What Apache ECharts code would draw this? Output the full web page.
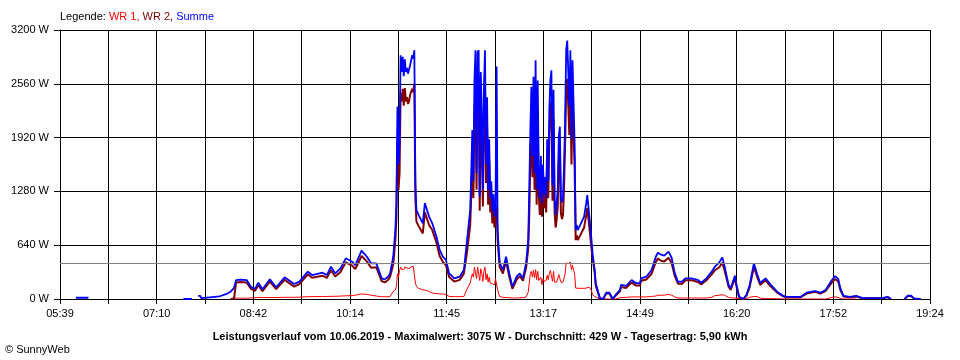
<!DOCTYPE html>
<html><head><meta charset="utf-8">
<script src="https://cdn.jsdelivr.net/npm/echarts@6/dist/echarts.min.js"></script>
<style>html,body{margin:0;padding:0;background:#fff}#c{width:960px;height:360px}</style>
</head><body><div id="c"></div>
<script>
const times = [
 '05:54','06:06','06:07','07:36','07:44','07:45','07:50','07:52','07:53','08:01',
 '08:10','08:17','08:21','08:24','08:26','08:30','08:36','08:40','08:44','08:47',
 '08:51','08:58','09:04','09:12','09:21','09:26','09:34','09:38','09:48','09:52',
 '09:56','10:00','10:05','10:10','10:16','10:19','10:25','10:30','10:34','10:39',
 '10:44','10:47','10:50','10:52','10:55','10:57','10:58','10:59','11:00','11:01',
 '11:02','11:03','11:04','11:05','11:06','11:07','11:08','11:09','11:10','11:11',
 '11:12','11:13','11:14','11:15','11:16','11:17','11:19','11:20','11:23','11:25',
 '11:29','11:32','11:36','11:39','11:42','11:45','11:48','11:53','11:58','12:02',
 '12:05','12:08','12:09','12:10','12:11','12:12','12:13','12:14','12:15','12:16',
 '12:17','12:18','12:19','12:20','12:21','12:22','12:23','12:24','12:25','12:26',
 '12:27','12:28','12:29','12:30','12:31','12:32','12:33','12:34','12:35','12:36',
 '12:39','12:42','12:45','12:48','12:52','12:55','12:58','13:01','13:03','13:04',
 '13:05','13:06','13:07','13:08','13:09','13:10','13:11','13:12','13:13','13:14',
 '13:15','13:16','13:17','13:18','13:19','13:20','13:21','13:22','13:23','13:24',
 '13:25','13:26','13:27','13:28','13:29','13:30','13:31','13:32','13:33','13:34',
 '13:35','13:36','13:37','13:38','13:39','13:40','13:41','13:42','13:43','13:44',
 '13:45','13:46','13:47','13:48','13:49','13:50','13:56','13:58','13:59','14:01',
 '14:03','14:04','14:06','14:07','14:11','14:14','14:17','14:20','14:23','14:26',
 '14:30','14:31','14:36','14:41','14:45','14:49','14:50','14:55','15:00','15:04',
 '15:06','15:09','15:12','15:16','15:19','15:22','15:25','15:29','15:32','15:38',
 '15:44','15:47','15:52','15:57','16:00','16:04','16:07','16:09','16:13','16:15',
 '16:19','16:20','16:23','16:27','16:30','16:33','16:37','16:40','16:43','16:48',
 '16:51','16:54','16:59','17:05','17:08','17:21','17:27','17:35','17:40','17:45',
 '17:51','17:54','17:57','17:59','18:02','18:08','18:14','18:20','18:33','18:39',
 '18:44','18:47','18:49','19:00','19:03','19:06','19:09','19:15'
];
const summe = [
 15,15,null,0,0,null,36,36,10,20,
 30,60,90,130,225,230,225,146,120,195,
 115,234,140,258,178,206,325,285,313,285,
 384,305,365,484,444,404,575,503,424,424,
 246,234,265,305,503,820,1140,2290,1600,1890,
 2900,2700,2880,2650,2850,2700,2750,2680,2700,2780,
 2800,2900,2860,2960,1380,1060,1000,980,900,1140,
 980,900,740,583,503,464,305,246,265,345,
 700,1060,1500,2010,1400,2600,2960,1500,2930,2960,
 1217,2700,2200,1300,2500,2960,1600,2400,1300,1900,
 1200,1400,1050,1250,980,1100,2765,820,600,430,
 345,503,305,146,265,305,246,430,700,1300,
 2000,2525,1700,2645,1500,2840,1300,2600,1450,1200,
 1700,1140,1600,1250,1450,1200,1900,1400,2250,2600,
 2720,1350,2490,1200,1000,1140,1300,1930,2050,1200,
 1150,1200,1600,2130,2960,3075,2700,2300,2960,1900,
 2840,2330,1850,820,880,820,980,1140,1237,980,
 700,544,350,187,10,0,75,75,0,50,
 110,167,155,226,190,190,246,265,345,503,
 551,527,515,563,491,305,206,206,246,246,
 226,194,246,325,384,432,495,400,167,127,
 277,200,27,0,50,167,424,300,190,246,
 200,155,87,36,25,25,75,95,75,107,
 226,272,240,127,36,25,36,10,10,10,
 25,0,null,0,40,40,5,0
];
const wr2 = [
 null,null,null,null,null,null,null,null,null,null,
 null,null,0,5,197,202,197,122,97,167,
 92,207,117,227,147,177,292,252,277,250,
 342,267,322,437,397,357,512,447,372,377,
 212,197,227,262,412,700,950,1900,1300,1500,
 2450,2350,2500,2300,2510,2350,2400,2320,2350,2430,
 2420,2500,2460,2560,1200,920,870,860,780,1030,
 880,820,670,512,442,402,262,207,227,302,
 560,880,1250,1700,1200,2200,2560,1300,2500,2550,
 1050,2300,1900,1100,2150,2550,1380,2050,1120,1650,
 1030,1200,900,1080,850,950,1100,700,520,380,
 302,452,267,122,232,272,217,372,600,1000,
 1650,2100,1450,2250,1300,2420,1120,2230,1250,1000,
 1450,980,1380,1080,1250,1030,1650,1200,1950,2250,
 2350,1170,2150,1030,850,950,1100,1650,1750,1020,
 950,1000,1350,1850,2510,2620,2300,1950,2510,1600,
 2420,1980,1570,700,760,700,850,1000,1080,850,
 600,492,312,162,5,0,65,65,0,40,
 92,142,132,197,162,162,217,232,300,440,
 480,455,445,490,425,272,182,182,222,222,
 202,172,222,292,342,375,432,350,147,107,
 252,177,20,0,40,142,382,267,167,222,
 177,137,77,30,20,20,65,85,65,95,
 197,237,207,107,30,20,30,8,8,8,
 22,0,null,0,36,36,5,0
];
const wr1 = [
 null,null,null,null,null,null,null,null,null,null,
 null,null,5,10,10,10,10,12,15,20,
 18,18,18,20,20,22,28,28,30,30,
 32,32,35,38,40,45,60,55,45,35,
 27,27,27,30,90,107,150,300,260,340,
 380,350,370,350,380,360,370,370,360,370,
 380,400,390,404,190,150,127,120,110,107,
 90,70,65,60,60,55,30,28,28,30,
 120,190,250,300,260,380,370,240,380,380,
 220,360,300,210,330,380,230,300,200,260,
 190,180,180,190,170,240,240,110,60,30,
 20,18,15,12,12,15,15,25,80,190,
 300,330,260,340,250,350,230,330,220,200,
 260,170,240,210,230,220,280,230,300,340,
 330,210,330,200,180,200,200,290,300,200,
 190,200,250,300,430,444,420,400,440,350,
 400,350,300,130,127,127,127,130,145,140,
 100,50,30,20,0,0,0,0,0,0,
 15,20,20,25,25,25,25,25,30,36,
 45,45,45,55,45,25,12,12,12,12,
 12,12,12,20,40,45,50,45,20,15,
 12,10,5,0,5,20,30,30,10,5,
 5,5,3,0,0,0,0,0,0,0,
 20,25,20,5,0,0,0,null,null,null,
 null,null,null,null,null,null,null,null
];
const timeLabels = ['05:39','07:10','08:42','10:14','11:45','13:17','14:49','16:20','17:52','19:24'];
const yTicks = [0, 640, 1280, 1920, 2560, 3200];
const avgValue = 429;
const seriesNames = ['WR 1', 'WR 2', 'Summe'];
const legendLabel = 'Legende:';
const titleText = 'Leistungsverlauf vom 10.06.2019 - Maximalwert: 3075 W - Durchschnitt: 429 W - Tagesertrag: 5,90 kWh';
const copyrightText = '\u00A9 SunnyWeb';

const FONT = '"Liberation Sans", Arial, sans-serif';
const toMin = s => { const p = s.split(':'); return (+p[0]) * 60 + (+p[1]); };
const start = toMin(timeLabels[0]);
const span = toMin(timeLabels[timeLabels.length - 1]) - start;
const xStep = span / 18;
const pairs = arr => times.map((t, i) => [toMin(t) - start, arr[i] == null ? null : arr[i]]);

const chart = echarts.init(document.getElementById('c'), null, {renderer: 'canvas'});
chart.setOption({
  animation: false,
  backgroundColor: '#fff',
  grid: {left: 60, right: 30, top: 30, bottom: 61, containLabel: false, outerBoundsMode: 'none'},
  xAxis: {
    type: 'value', min: 0, max: span, interval: xStep,
    axisLine: {show: true, onZero: false, lineStyle: {color: '#000', width: 1}},
    axisTick: {show: true, length: 5, lineStyle: {color: '#000', width: 1}},
    splitLine: {show: true, lineStyle: {color: '#000', width: 1}},
    axisLabel: {
      color: '#000', fontSize: 11, fontFamily: FONT, margin: 9,
      showMinLabel: true, showMaxLabel: true,
      formatter: v => { const k = Math.round(v / xStep); return k % 2 === 0 ? (timeLabels[k / 2] || '') : ''; }
    }
  },
  yAxis: {
    type: 'value', min: yTicks[0], max: yTicks[yTicks.length - 1], interval: yTicks[1] - yTicks[0],
    axisLine: {show: true, lineStyle: {color: '#000', width: 1}},
    axisTick: {show: true, length: 6, lineStyle: {color: '#000', width: 1}},
    splitLine: {show: true, lineStyle: {color: '#000', width: 1}},
    axisLabel: {color: '#000', fontSize: 11, fontFamily: FONT, margin: 11, formatter: v => String(Math.round(v)) + ' W'}
  },
  series: [
    {
      name: seriesNames[0], type: 'line', data: pairs(wr1), symbol: 'none', connectNulls: false,
      lineStyle: {color: '#ff0000', width: 1}, itemStyle: {color: '#ff0000'}
    },
    {
      name: seriesNames[1], type: 'line', data: pairs(wr2), symbol: 'none', connectNulls: false,
      lineStyle: {color: '#800000', width: 2}, itemStyle: {color: '#800000'}
    },
    {
      name: seriesNames[2], type: 'line', data: pairs(summe), symbol: 'none', connectNulls: false,
      lineStyle: {color: '#0000ff', width: 1.8}, itemStyle: {color: '#0000ff'},
      markLine: {
        silent: true, symbol: 'none', label: {show: false}, animation: false,
        lineStyle: {color: '#808080', width: 1, type: 'solid'},
        data: [{yAxis: avgValue}]
      }
    }
  ],
  graphic: [
    {
      type: 'text', left: 60, top: 11,
      style: {
        text: '{k|' + legendLabel + ' }{a|' + seriesNames[0] + ', }{b|' + seriesNames[1] + ', }{c|' + seriesNames[2] + '}',
        font: '11px ' + FONT,
        rich: {
          k: {fill: '#000', fontSize: 11, fontFamily: FONT},
          a: {fill: '#ff0000', fontSize: 11, fontFamily: FONT},
          b: {fill: '#800000', fontSize: 11, fontFamily: FONT},
          c: {fill: '#0000ff', fontSize: 11, fontFamily: FONT}
        }
      }
    },
    {
      type: 'text', left: 'center', top: 331,
      style: {text: titleText, fill: '#000', font: 'bold 11px ' + FONT}
    },
    {
      type: 'text', left: 5, top: 344,
      style: {text: copyrightText, fill: '#000', font: '11px ' + FONT}
    }
  ]
});
</script>
</body></html>
